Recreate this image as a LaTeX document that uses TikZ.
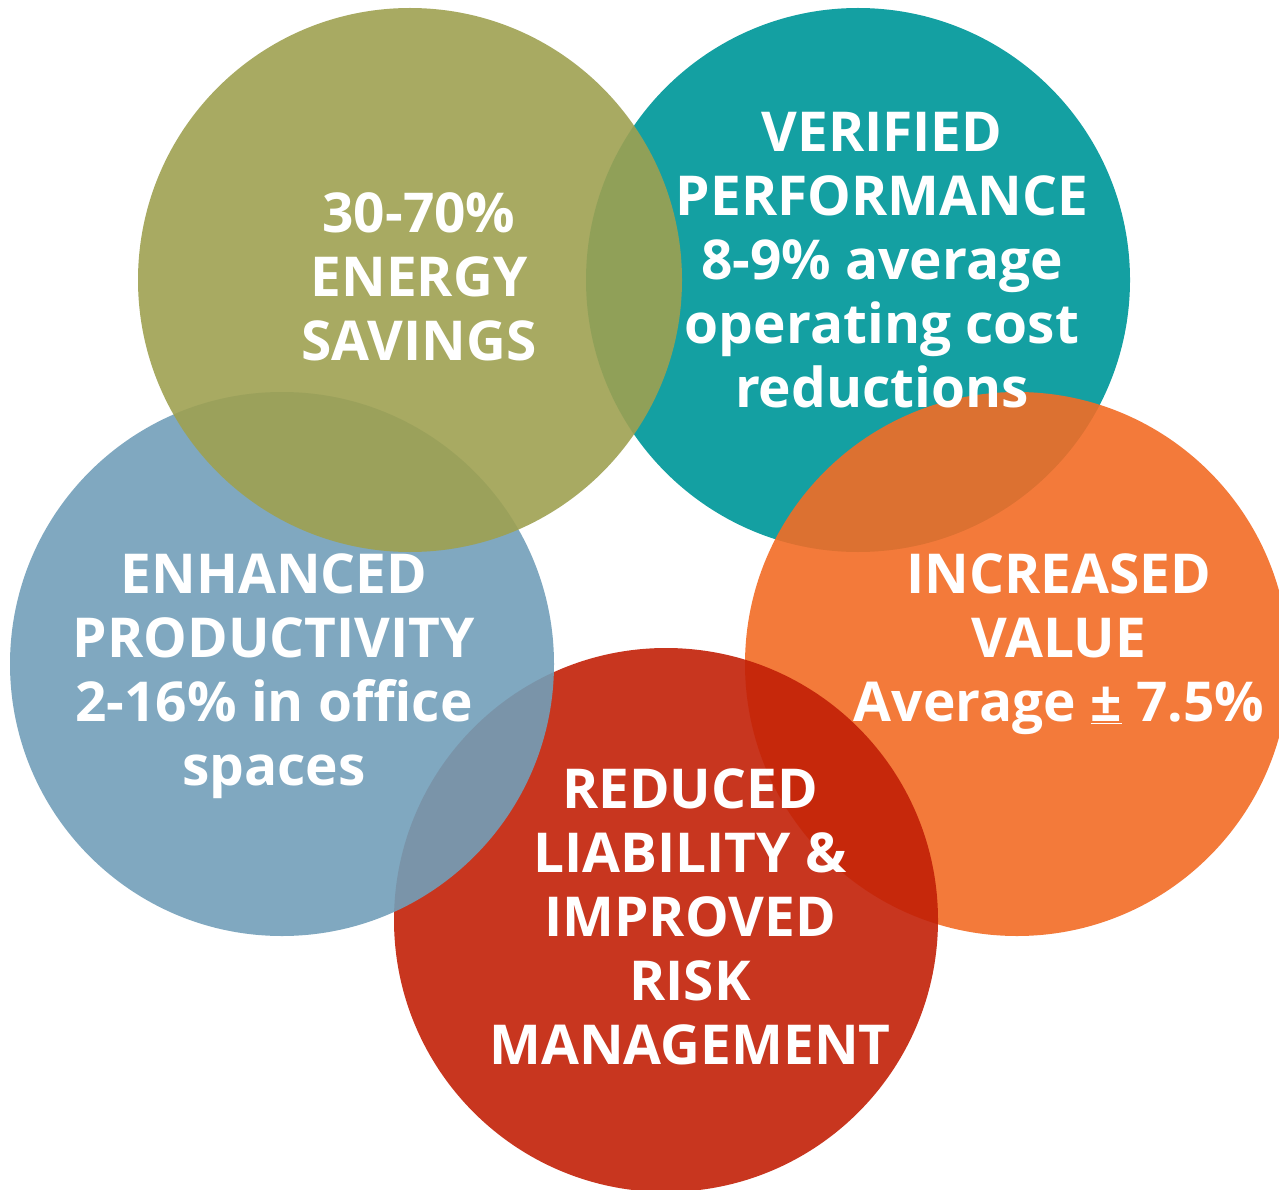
\documentclass[tikz,border=0pt]{standalone}
\usepackage{fontspec}
\setmainfont{Open Sans}
\definecolor{cteal}{RGB}{20,160,162}
\definecolor{corange}{RGB}{242,108,37}
\definecolor{cred}{RGB}{194,32,7}
\definecolor{cblue}{RGB}{114,159,185}
\definecolor{colive}{RGB}{158,161,81}
\begin{document}
\begin{tikzpicture}[x=1pt,y=-1pt,
  disc/.style={circle,draw=none,inner sep=0pt,minimum size=544pt,fill opacity=0.9},
  lbl/.style={text=white,font=\fontsize{55}{64}\selectfont\bfseries,align=center,inner sep=0pt}]
\useasboundingbox (0,0) rectangle (1279,1190);
\clip (0,0) rectangle (1279,1190);
\node[disc,fill=cteal,fill opacity=1] (teal) at (858,280) {};
\node[disc,fill=corange] (orange) at (1017,664) {};
\node[disc,fill=cred]    (red)    at (666,920) {};
\node[disc,fill=cblue]   (blue)   at (282,664) {};
\node[disc,fill=colive]  (olive)  at (410,280) {};
\node[lbl] (toliv) at (419,277) {30-70\%\\ENERGY\\SAVINGS};
\node[lbl] (tteal) at (882,260) {VERIFIED\\PERFORMANCE\\8-9\% average\\operating cost\\reductions};
\node[lbl] (tblue) at (274,676) {ENHANCED\\PRODUCTIVITY\\2-16\% in office\\spaces};
\node[lbl] (toran) at (1059,644) {INCREASED\\VALUE\\Average \underline{±} 7.5\%};
\node[lbl] (tred)  at (690,917) {REDUCED\\LIABILITY \&\\IMPROVED\\RISK\\MANAGEMENT};
\end{tikzpicture}
\end{document}
